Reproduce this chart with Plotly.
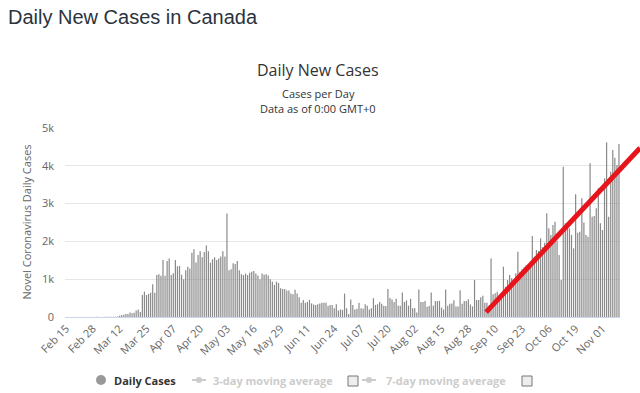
import pandas as pd
import plotly.graph_objects as go

START_DATE = "2020-02-15"
daily_cases = [
    0, 0, 0, 0, 0, 1, 0, 0, 0, 1, 0, 1, 1, 2, 3,
    4, 3, 3, 3, 4, 4, 6, 5, 7, 5, 16,
    33, 55, 60, 80, 80, 120, 100, 110, 170, 200, 130,
    580, 670, 580, 610, 640, 865, 640, 1110, 1130, 1090,
    1510, 1090, 1480, 1550, 1110, 1160, 1510, 1340, 1350, 1120,
    1000, 1240, 1330, 1280, 1700, 1790, 1440, 1640, 1740, 1580,
    1720, 1890, 1740, 1440, 1530, 1580, 1510, 1550, 1600, 1740,
    1600, 2740,
    1240, 1260, 1420, 1400, 1480, 1240, 1130, 1110, 1150, 1110, 1170,
    1200, 1220, 1150, 1100, 1000, 1150, 1120, 1130, 1100, 1000,
    935, 850, 935, 900, 760, 740, 740, 700, 700, 625,
    600, 720, 625, 520, 380, 450, 380, 400, 450, 360,
    330, 320, 340, 360, 380, 380, 380,
    290, 320, 320, 230, 340, 170, 200, 190, 620, 230,
    80, 460, 320, 200, 220, 380, 230, 220, 340, 300,
    200, 230, 500, 320, 340, 400,
    350, 300, 290, 740, 500, 460, 400, 480, 300, 300,
    650, 400, 440, 300, 480, 230, 230, 120, 730, 400,
    400, 420, 270, 290, 650, 300, 420, 420, 430, 250,
    200, 730, 300, 350, 360, 440, 280, 280, 710, 350,
    420, 420, 470, 330, 280, 980, 450, 450, 520, 560,
    380, 380, 300,
    1550, 600, 626, 670, 540, 582, 1332, 803, 979, 1111,
    1023, 891, 1155, 1728, 1199, 1261, 1314, 1367, 1349, 1420,
    2143, 1596, 1772, 1750, 2081, 1843, 1966, 2743, 2346, 2169,
    2434, 2522, 2020, 1640, 979, 3977, 2478, 2390, 2346, 2169,
    1816, 3245, 2231, 2257, 3139, 2500, 2169, 2125, 4065, 2654,
    2672, 2875, 3404, 2478, 2302, 3668, 4621, 2654, 3845, 4418,
    4215, 4021, 4577,
]
y_ticks = [0, 1000, 2000, 3000, 4000, 5000]
y_tick_labels = ["0", "1k", "2k", "3k", "4k", "5k"]
tick_every = 13
# hand-drawn red trend stroke: (category index, value) endpoints
trend_start = (203.6, 130)
trend_end = (278.2, 4470)
legend_items = ["Daily Cases", "3-day moving average", "7-day moving average"]

dates = pd.date_range(START_DATE, periods=len(daily_cases), freq="D")
cats = [d.strftime("%b %d") for d in dates]
n = len(cats)

fig = go.Figure()
fig.add_trace(go.Bar(
    x=cats, y=daily_cases, marker=dict(color="rgba(136,136,136,0.99)", line=dict(width=0)),
    showlegend=False, name="Daily Cases",
))

W, H = 640, 393
ML, MR, MT, MB = 65, 20, 128, 76
PW = W - ML - MR
ph = H - MT - MB
ymax = 5000


def px_x(i):
    return (i + 0.5) / n


def pxx(x):
    return (x - ML) / PW


def pxy(y):
    return (H - MB - y) / ph


fig.add_shape(type="line", xref="paper", yref="paper",
              x0=px_x(trend_start[0]), y0=trend_start[1] / ymax,
              x1=px_x(trend_end[0]), y1=trend_end[1] / ymax,
              line=dict(color="#e8141c", width=5), layer="above")

fig.update_layout(
    width=W, height=H,
    margin=dict(l=ML, r=MR, t=MT, b=MB, autoexpand=False),
    paper_bgcolor="white", plot_bgcolor="white",
    bargap=0.42,
    font=dict(family="Open Sans, DejaVu Sans, sans-serif", color="#666666", size=11),
    xaxis=dict(
        type="category", range=[-0.5, n - 0.5], automargin=False,
        tickvals=cats[::tick_every], ticktext=cats[::tick_every],
        tickangle=-45, showgrid=False, showline=True, linecolor="#ccd6eb",
        ticks="", tickfont=dict(size=11, color="#666666"),
    ),
    yaxis=dict(
        range=[0, ymax], tickvals=y_ticks, ticktext=y_tick_labels, automargin=False,
        showgrid=True, gridcolor="#e6e6e6", zeroline=False, showline=False,
        tickfont=dict(size=11, color="#666666"), ticks="", ticklabelstandoff=10,
    ),
)

ann = []
ann.append(dict(text="Daily New Cases in Canada", xref="paper", yref="paper",
                x=pxx(6), y=pxy(17), xanchor="left", yanchor="middle", showarrow=False,
                font=dict(family="Liberation Sans, Arial, sans-serif", size=20, color="#2b3340")))
ann.append(dict(text="Daily New Cases", xref="paper", yref="paper",
                x=pxx(318), y=pxy(70), xanchor="center", yanchor="middle", showarrow=False,
                font=dict(size=16, color="#333333")))
ann.append(dict(text="Cases per Day", xref="paper", yref="paper",
                x=pxx(318), y=pxy(94), xanchor="center", yanchor="middle", showarrow=False,
                font=dict(size=11, color="#333333")))
ann.append(dict(text="Data as of 0:00 GMT+0", xref="paper", yref="paper",
                x=pxx(318), y=pxy(108), xanchor="center", yanchor="middle", showarrow=False,
                font=dict(size=11, color="#333333")))
ann.append(dict(text="Novel Coronavirus Daily Cases", xref="paper", yref="paper",
                x=pxx(26), y=0.5, xanchor="center", yanchor="middle", showarrow=False,
                textangle=-90, font=dict(size=11, color="#666666")))

ly = 380
# legend: Daily Cases
fig.add_shape(type="circle", xref="paper", yref="paper",
              x0=pxx(96), x1=pxx(106), y0=pxy(385), y1=pxy(375),
              fillcolor="#999999", line=dict(width=0))
ann.append(dict(text="<b>" + legend_items[0] + "</b>", xref="paper", yref="paper",
                x=pxx(112), y=pxy(ly), xanchor="left", yanchor="middle", showarrow=False,
                font=dict(size=11, color="#333333")))
for lx0, tx, cbx, label in [(192, 211, 353, legend_items[1]), (362, 384, 527, legend_items[2])]:
    fig.add_shape(type="line", xref="paper", yref="paper",
                  x0=pxx(lx0), x1=pxx(lx0 + 14), y0=pxy(ly), y1=pxy(ly),
                  line=dict(color="#cccccc", width=2))
    fig.add_shape(type="circle", xref="paper", yref="paper",
                  x0=pxx(lx0 + 4), x1=pxx(lx0 + 10), y0=pxy(ly + 3), y1=pxy(ly - 3),
                  fillcolor="#cccccc", line=dict(width=0))
    ann.append(dict(text="<b>" + label + "</b>", xref="paper", yref="paper",
                    x=pxx(tx), y=pxy(ly), xanchor="left", yanchor="middle", showarrow=False,
                    font=dict(size=11, color="#cccccc")))
    fig.add_shape(type="rect", xref="paper", yref="paper",
                  x0=pxx(cbx - 5), x1=pxx(cbx + 5), y0=pxy(ly + 6), y1=pxy(ly - 4),
                  fillcolor="#eeeeee", line=dict(color="#777777", width=1))

fig.update_layout(annotations=ann)
fig.write_html("out.html", config={"displayModeBar": False},
               post_script="document.body.style.margin='0';")
